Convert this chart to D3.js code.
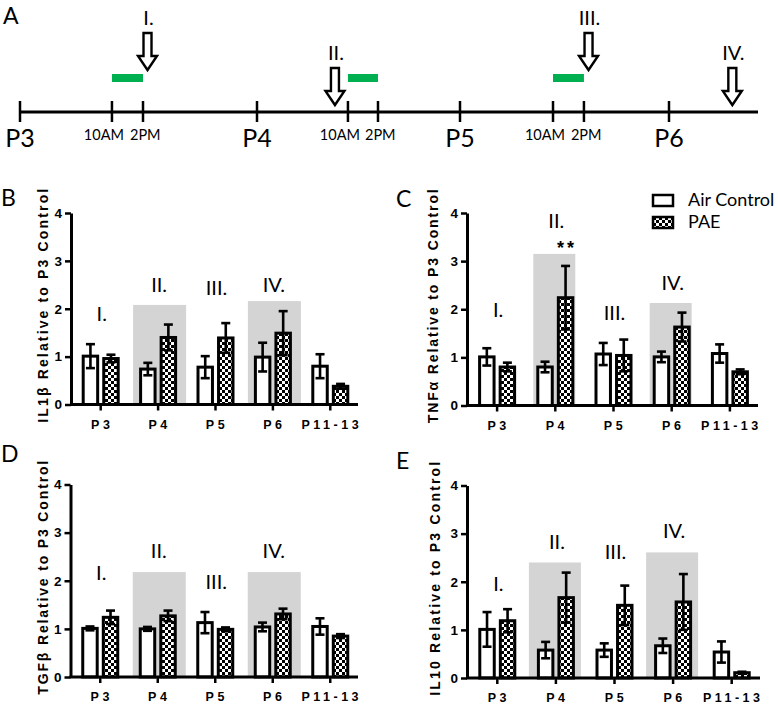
<!DOCTYPE html>
<html>
<head>
<meta charset="utf-8">
<script src="https://cdn.jsdelivr.net/npm/d3@7"></script>
<style>
  body { margin: 0; background: #fff; }
  .cal { font-family: Lato, "Open Sans", sans-serif; }
  .ari { font-family: "Liberation Sans", Arial, sans-serif; font-weight: bold; }
</style>
</head>
<body>
<svg id="fig" width="778" height="705"></svg>
<script>
// ---- timeline (panel A) ----
var dayTicks = [{label: 'P3', t: 3}, {label: 'P4', t: 4}, {label: 'P5', t: 5}, {label: 'P6', t: 6}];
var hourTicks = [
  {label: '10AM', t: 3.388}, {label: '2PM', t: 3.519},
  {label: '10AM', t: 4.448}, {label: '2PM', t: 4.596},
  {label: '10AM', t: 5.445}, {label: '2PM', t: 5.593}
];
var exposures = [[3.388, 3.519], [4.448, 4.596], [5.445, 5.593]];
var arrows = [
  {label: 'I.', t: 3.538, level: 'high'},
  {label: 'II.', t: 4.384, level: 'low'},
  {label: 'III.', t: 5.615, level: 'high'},
  {label: 'IV.', t: 6.306, level: 'low'}
];
var timelineEnd = 6.43;

// ---- bar panels ----
var categories = ['P3', 'P4', 'P5', 'P6', 'P11-13'];
var series = ['Air Control', 'PAE'];
var romans = ['I.', 'II.', 'III.', 'IV.'];

var il1bAir    = [1.01, 0.74, 0.78, 0.99, 0.80];
var il1bAirErr = [0.25, 0.13, 0.23, 0.30, 0.25];
var il1bPae    = [0.96, 1.40, 1.39, 1.49, 0.38];
var il1bPaeErr = [0.08, 0.27, 0.31, 0.46, 0.05];
var il1bShade  = [{cat: 'P4', top: 2.08}, {cat: 'P6', top: 2.16}];
var il1bRomanY = [1.74, 2.35, 2.29, 2.35];

var tnfAir    = [1.01, 0.80, 1.07, 1.01, 1.08];
var tnfAirErr = [0.18, 0.11, 0.23, 0.11, 0.19];
var tnfPae    = [0.80, 2.24, 1.04, 1.63, 0.70];
var tnfPaeErr = [0.09, 0.66, 0.33, 0.30, 0.05];
var tnfShade  = [{cat: 'P4', top: 3.15}, {cat: 'P6', top: 2.13}];
var tnfRomanY = [1.83, 3.69, 1.77, 2.40];
var tnfStars  = [{cat: 'P4', series: 'PAE', y: 3.15, text: '**'}];

var tgfAir    = [1.01, 1.00, 1.13, 1.04, 1.05];
var tgfAirErr = [0.04, 0.04, 0.22, 0.09, 0.17];
var tgfPae    = [1.24, 1.27, 0.99, 1.31, 0.85];
var tgfPaeErr = [0.14, 0.11, 0.04, 0.11, 0.04];
var tgfShade  = [{cat: 'P4', top: 2.18}, {cat: 'P6', top: 2.18}];
var tgfRomanY = [2.01, 2.47, 1.82, 2.47];

var il10Air    = [1.01, 0.58, 0.58, 0.67, 0.54];
var il10AirErr = [0.36, 0.17, 0.14, 0.15, 0.22];
var il10Pae    = [1.19, 1.67, 1.51, 1.58, 0.11];
var il10PaeErr = [0.24, 0.52, 0.41, 0.58, 0.02];
var il10Shade  = [{cat: 'P4', top: 2.40}, {cat: 'P6', top: 2.61}];
var il10RomanY = [1.81, 2.69, 2.48, 2.90];

var yTicks = [0, 1, 2, 3, 4];

var svg = d3.select('#fig');
var defs = svg.append('defs');
var pat = defs.append('pattern').attr('id', 'checks')
  .attr('patternUnits', 'userSpaceOnUse').attr('width', 6).attr('height', 6);
pat.append('rect').attr('width', 6).attr('height', 6).attr('fill', '#fff');
pat.append('rect').attr('width', 3).attr('height', 3).attr('fill', '#000');
pat.append('rect').attr('x', 3).attr('y', 3).attr('width', 3).attr('height', 3).attr('fill', '#000');

var fills = {'Air Control': '#fff', 'PAE': 'url(#checks)'};

function panelLetter(txt, x, y) {
  svg.append('text').attr('class', 'cal').attr('x', x).attr('y', y)
    .attr('font-size', 23).text(txt);
}

// panel A
function drawTimeline() {
  var lineY = 112;
  var tx = d3.scaleLinear().domain([3, 4, 5, 6, timelineEnd]).range([20, 257, 460, 669, 758]);
  var arrowTop = {high: 33, low: 68};
  var g = svg.append('g');

  panelLetter('A', 3, 24);

  g.append('line').attr('x1', tx(3)).attr('x2', tx(timelineEnd))
    .attr('y1', lineY).attr('y2', lineY).attr('stroke', '#000').attr('stroke-width', 3);

  g.selectAll('.tick').data(dayTicks.concat(hourTicks)).enter().append('line')
    .attr('x1', function(d) { return tx(d.t); })
    .attr('x2', function(d) { return tx(d.t); })
    .attr('y1', lineY - 11).attr('y2', lineY + 10)
    .attr('stroke', '#000').attr('stroke-width', 2.5);

  g.selectAll('.day').data(dayTicks).enter().append('text')
    .attr('class', 'cal').attr('font-size', 25).attr('text-anchor', 'middle')
    .attr('x', function(d) { return tx(d.t); }).attr('y', lineY + 35)
    .text(function(d) { return d.label; });

  g.selectAll('.hour').data(hourTicks).enter().append('text')
    .attr('class', 'cal').attr('font-size', 14.5)
    .attr('text-anchor', function(d) { return d.label == '10AM' ? 'end' : 'start'; })
    .attr('x', function(d) { return d.label == '10AM' ? tx(d.t) + 12 : tx(d.t) - 13; })
    .attr('y', lineY + 28)
    .text(function(d) { return d.label; });

  g.selectAll('.expo').data(exposures).enter().append('rect')
    .attr('x', function(d) { return tx(d[0]); })
    .attr('width', function(d) { return tx(d[1]) - tx(d[0]); })
    .attr('y', 74).attr('height', 8).attr('fill', '#00b050');

  var ar = g.selectAll('.arrow').data(arrows).enter().append('g');
  ar.append('path')
    .attr('d', function(d) {
      var cx = tx(d.t), y0 = arrowTop[d.level], h = 37, neck = y0 + h - 14;
      return 'M' + (cx - 4) + ',' + y0 + 'H' + (cx + 4) + 'V' + neck + 'H' + (cx + 9.5) +
        'L' + cx + ',' + (y0 + h) + 'L' + (cx - 9.5) + ',' + neck + 'H' + (cx - 4) + 'Z';
    })
    .attr('fill', '#fff').attr('stroke', '#000').attr('stroke-width', 2.4)
    .attr('stroke-linejoin', 'miter');
  ar.append('text').attr('class', 'cal').attr('font-size', 20).attr('text-anchor', 'middle')
    .attr('x', function(d) { return tx(d.t) + 1; })
    .attr('y', function(d) { return arrowTop[d.level] - 8; })
    .text(function(d) { return d.label; });
}

function drawPanel(p) {
  var g = svg.append('g');
  panelLetter(p.letter, p.lx, p.ly);

  var x = d3.scaleBand().domain(categories).range([p.x0 + 1, p.x1 + 1]);
  var xs = d3.scaleBand().domain(series).range([-19, 19]).paddingInner(0.15);
  var y = d3.scaleLinear().domain([0, 4]).range([p.yBot, p.yTop]);
  var c = function(cat) { return x(cat) + x.bandwidth() / 2; };

  var rows = [];
  categories.forEach(function(cat, i) {
    rows.push({cat: cat, s: 'Air Control', v: p.air[i], e: p.airErr[i]});
    rows.push({cat: cat, s: 'PAE', v: p.pae[i], e: p.paeErr[i]});
  });

  g.selectAll('.shade').data(p.shade).enter().append('rect')
    .attr('x', function(d) { return c(d.cat) - p.shadePad[0]; })
    .attr('width', p.shadePad[0] + p.shadePad[1])
    .attr('y', function(d) { return y(d.top); })
    .attr('height', function(d) { return y(0) - y(d.top); })
    .attr('fill', '#d4d4d4');

  g.selectAll('.bar').data(rows).enter().append('rect')
    .attr('x', function(d) { return c(d.cat) + xs(d.s) + 1.5; })
    .attr('width', xs.bandwidth() - 3)
    .attr('y', function(d) { return y(d.v); })
    .attr('height', function(d) { return y(0) - y(d.v); })
    .attr('fill', function(d) { return fills[d.s]; })
    .attr('stroke', '#000').attr('stroke-width', 3);

  var eb = g.selectAll('.err').data(rows).enter().append('g')
    .attr('stroke', '#000').attr('stroke-width', 2.6);
  var mid = function(d) { return c(d.cat) + xs(d.s) + xs.bandwidth() / 2; };
  eb.append('line')
    .attr('x1', mid).attr('x2', mid)
    .attr('y1', function(d) { return y(d.v + d.e); })
    .attr('y2', function(d) { return y(Math.max(0, d.v - d.e)); });
  eb.append('line')
    .attr('x1', function(d) { return mid(d) - 4.5; }).attr('x2', function(d) { return mid(d) + 4.5; })
    .attr('y1', function(d) { return y(d.v + d.e); }).attr('y2', function(d) { return y(d.v + d.e); });
  eb.append('line')
    .attr('x1', function(d) { return mid(d) - 4.5; }).attr('x2', function(d) { return mid(d) + 4.5; })
    .attr('y1', function(d) { return y(d.v - d.e); }).attr('y2', function(d) { return y(d.v - d.e); });

  // axes
  var yAxis = g.append('g').attr('transform', 'translate(' + p.x0 + ',0)')
    .call(d3.axisLeft(y).tickValues(yTicks).tickSize(6).tickSizeOuter(0).tickPadding(3).tickFormat(d3.format('d')));
  yAxis.select('.domain').attr('stroke-width', 3);
  yAxis.selectAll('.tick line').attr('stroke-width', 2.5);
  yAxis.selectAll('.tick text').attr('class', 'ari').attr('font-size', 13.5).attr('fill', '#000');

  var xAxis = g.append('g').attr('transform', 'translate(0,' + p.yBot + ')')
    .call(d3.axisBottom(x).tickSize(6).tickSizeOuter(0));
  xAxis.select('.domain').attr('d', 'M' + (p.x0 - 1) + ',0H' + p.x1).attr('stroke-width', 3);
  xAxis.selectAll('.tick line').attr('stroke-width', 2.5);
  xAxis.selectAll('.tick text').attr('class', 'ari').attr('font-size', 12.5)
    .attr('letter-spacing', 3.5).attr('y', 24).attr('dy', 0).attr('dx', 1.5).attr('fill', '#000');

  svg.append('text').attr('class', 'ari').attr('font-size', 14)
    .attr('textLength', 234).attr('lengthAdjust', 'spacing')
    .attr('text-anchor', 'middle')
    .attr('transform', 'translate(' + p.labelX + ',' + ((p.yTop + p.yBot) / 2 - 3) + ') rotate(-90)')
    .attr('dy', '0.36em')
    .text(p.label);

  g.selectAll('.roman').data(p.romanY).enter().append('text')
    .attr('class', 'cal').attr('font-size', 20).attr('text-anchor', 'middle')
    .attr('x', function(d, i) { return c(categories[i]) + 1; })
    .attr('y', function(d) { return y(d); })
    .text(function(d, i) { return romans[i]; });

  if (p.stars) {
    g.selectAll('.star').data(p.stars).enter().append('text')
      .attr('class', 'ari').attr('font-weight', 'normal').attr('font-size', 18)
      .attr('letter-spacing', 3).attr('text-anchor', 'middle')
      .attr('x', function(d) { return c(d.cat) + xs(d.series) + xs.bandwidth() / 2 + 1.5; })
      .attr('y', function(d) { return y(d.y); })
      .text(function(d) { return d.text; });
  }
}

function drawLegend(x0, y0) {
  var lg = svg.append('g').attr('transform', 'translate(' + x0 + ',' + y0 + ')');
  var item = lg.selectAll('.item').data(series).enter().append('g')
    .attr('transform', function(d, i) { return 'translate(0,' + (i * 22) + ')'; });
  item.append('rect').attr('width', 20).attr('height', 11)
    .attr('fill', function(d) { return fills[d]; })
    .attr('stroke', '#000').attr('stroke-width', 2.5);
  item.append('text').attr('class', 'cal').attr('font-size', 18)
    .attr('x', 35).attr('y', 11)
    .text(function(d) { return d; });
}

drawTimeline();

drawPanel({letter: 'B', lx: 1, ly: 206, x0: 71, x1: 358, yTop: 213, yBot: 404.5, labelX: 43,
  label: 'IL1\u03b2 Relative to P3 Control', shadePad: [25, 28],
  air: il1bAir, airErr: il1bAirErr, pae: il1bPae, paeErr: il1bPaeErr, shade: il1bShade, romanY: il1bRomanY});

drawPanel({letter: 'C', lx: 396, ly: 207, x0: 467, x1: 758, yTop: 213, yBot: 405.5, labelX: 433,
  label: 'TNF\u03b1 Relative to P3 Control', shadePad: [22, 20],
  air: tnfAir, airErr: tnfAirErr, pae: tnfPae, paeErr: tnfPaeErr, shade: tnfShade, romanY: tnfRomanY,
  stars: tnfStars});

drawPanel({letter: 'D', lx: 1, ly: 462, x0: 70.5, x1: 358, yTop: 484.5, yBot: 677, labelX: 43,
  label: 'TGF\u03b2 Relative to P3 Control', shadePad: [25, 28],
  air: tgfAir, airErr: tgfAirErr, pae: tgfPae, paeErr: tgfPaeErr, shade: tgfShade, romanY: tgfRomanY});

drawPanel({letter: 'E', lx: 396, ly: 469, x0: 467, x1: 760, yTop: 485.5, yBot: 678, labelX: 435,
  label: 'IL10 Relative to P3 Control', shadePad: [27, 25],
  air: il10Air, airErr: il10AirErr, pae: il10Pae, paeErr: il10PaeErr, shade: il10Shade, romanY: il10RomanY});

drawLegend(653, 195);
</script>
</body>
</html>
